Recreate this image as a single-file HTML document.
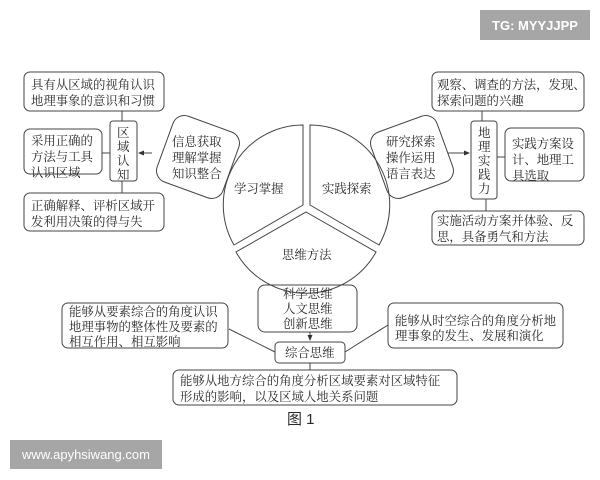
<!DOCTYPE html>
<html><head><meta charset="utf-8"><style>
html,body{margin:0;padding:0;background:#fff;width:600px;height:480px;overflow:hidden}
svg text{font-family:"Liberation Serif","Noto Serif CJK SC",serif;font-size:12.4px;fill:#2a2a2a}
svg text.v{font-size:12.5px}
</style></head><body>
<svg width="600" height="480" viewBox="0 0 600 480" xmlns="http://www.w3.org/2000/svg">
<defs><marker id="ar" markerWidth="6" markerHeight="6" refX="5" refY="3" orient="auto"><path d="M0,0.5 L6,3 L0,5.5 z" fill="#333"/></marker></defs>
<g fill="none" stroke="#444" stroke-width="1">
<path d="M308,206 L308,126 A80,80 0 0 1 377,246 Z" transform="translate(2,-1)"/>
<path d="M305,206 L305,126 A80,80 0 0 0 236,246 Z" transform="translate(-2,-1)"/>
<path d="M306,209 L376,249 A80,80 0 0 1 236,249 Z" transform="translate(0,3)"/>
<rect x="24" y="72" width="140" height="39" rx="6"/>
<rect x="110" y="121" width="27" height="60" rx="3"/>
<rect x="24" y="129" width="78" height="45" rx="6"/>
<rect x="24" y="193" width="140" height="38" rx="6"/>
<path d="M122,111V121M122,181V193M102,153H110"/>
<rect x="163" y="122" width="70" height="70" rx="12" transform="rotate(20 198 157)"/>
<path d="M152,153H139" marker-end="url(#ar)"/>
<rect x="432" y="72" width="152" height="39" rx="6"/>
<rect x="471" y="121" width="26" height="78" rx="3"/>
<rect x="505" y="128" width="79" height="53" rx="6"/>
<rect x="432" y="211" width="152" height="34" rx="6"/>
<path d="M482,111V121M486,199V211M497,157H505"/>
<rect x="377" y="122" width="70" height="70" rx="12" transform="rotate(-20 412 157)"/>
<path d="M448,153H469" marker-end="url(#ar)"/>
<rect x="258" y="285" width="99" height="47" rx="7"/>
<rect x="275" y="342" width="70" height="21" rx="4"/>
<rect x="62" y="303" width="166" height="45" rx="6"/>
<rect x="388" y="303" width="175" height="45" rx="6"/>
<rect x="173" y="370" width="284" height="35" rx="6"/>
<path d="M310,332V340" marker-end="url(#ar)"/>
<path d="M229,329L275,352M345,352L388,325M310,363V370"/>
</g>
<g>
<text x="31" y="89">具有从区域的视角认识</text>
<text x="31" y="105">地理事象的意识和习惯</text>
<text x="31" y="145">采用正确的</text>
<text x="31" y="161">方法与工具</text>
<text x="31" y="177">认识区域</text>
<text x="31" y="210">正确解释、评析区域开</text>
<text x="31" y="226">发利用决策的得与失</text>
<text class="v" x="117" y="137">区</text><text class="v" x="117" y="151">域</text><text class="v" x="117" y="165">认</text><text class="v" x="117" y="179">知</text>
<text x="172" y="146">信息获取</text><text x="172" y="162">理解掌握</text><text x="172" y="178">知识整合</text>
<text x="234" y="193">学习掌握</text>
<text x="322" y="193">实践探索</text>
<text x="282" y="259">思维方法</text>
<text x="386" y="146">研究探索</text><text x="386" y="162">操作运用</text><text x="386" y="178">语言表达</text>
<text x="437" y="89">观察、调查的方法，发现、</text>
<text x="437" y="105">探索问题的兴趣</text>
<text class="v" x="478" y="137">地</text><text class="v" x="478" y="151">理</text><text class="v" x="478" y="165">实</text><text class="v" x="478" y="179">践</text><text class="v" x="478" y="193">力</text>
<text x="512" y="148">实践方案设</text><text x="512" y="164">计、地理工</text><text x="512" y="180">具选取</text>
<text x="437" y="225">实施活动方案并体验、反</text>
<text x="437" y="241">思，具备勇气和方法</text>
<text x="283" y="298">科学思维</text><text x="283" y="313">人文思维</text><text x="283" y="328">创新思维</text>
<text x="285" y="357">综合思维</text>
<text x="69" y="316">能够从要素综合的角度认识</text>
<text x="69" y="331">地理事物的整体性及要素的</text>
<text x="69" y="346">相互作用、相互影响</text>
<text x="395" y="325">能够从时空综合的角度分析地</text>
<text x="395" y="340">理事象的发生、发展和演化</text>
<text x="180" y="385">能够从地方综合的角度分析区域要素对区域特征</text>
<text x="180" y="401">形成的影响，以及区域人地关系问题</text>
<text x="287" y="424" style="font-family:'Liberation Sans','Noto Sans CJK SC',sans-serif;font-size:15px">图 1</text>
</g>
<rect x="480" y="10" width="110" height="30" fill="#a6a6a6"/>
<text x="535" y="30" text-anchor="middle" style="font-family:'Liberation Sans',sans-serif;font-size:13px;fill:#fff;font-weight:bold">TG: MYYJJPP</text>
<rect x="10" y="440" width="152" height="29" fill="#a6a6a6"/>
<text x="86" y="459" text-anchor="middle" style="font-family:'Liberation Sans',sans-serif;font-size:13px;fill:#fff">www.apyhsiwang.com</text>
</svg>
</body></html>
